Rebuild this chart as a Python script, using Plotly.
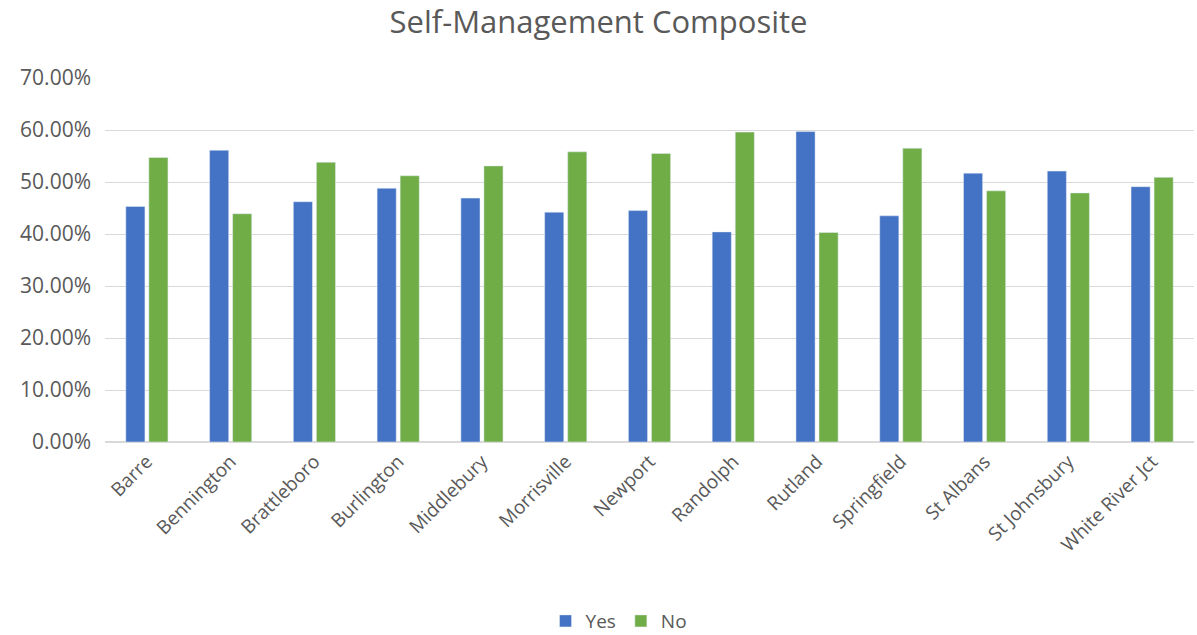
import plotly.graph_objects as go

categories = ["Barre", "Bennington", "Brattleboro", "Burlington", "Middlebury",
              "Morrisville", "Newport", "Randolph", "Rutland", "Springfield",
              "St Albans", "St Johnsbury", "White River Jct"]
yes_vals = [0.453, 0.561, 0.462, 0.488, 0.469, 0.442, 0.445, 0.404, 0.597, 0.435, 0.517, 0.521, 0.491]
no_vals = [0.547, 0.439, 0.538, 0.512, 0.531, 0.558, 0.555, 0.596, 0.403, 0.565, 0.483, 0.479, 0.509]
y_ticks = [0, 0.1, 0.2, 0.3, 0.4, 0.5, 0.6, 0.7]

FONT = "Open Sans"
GREY = "#595959"

fig = go.Figure()
fig.add_trace(go.Bar(name="Yes", x=categories, y=yes_vals, marker_color="#4472C4"))
fig.add_trace(go.Bar(name="No", x=categories, y=no_vals, marker_color="#70AD47"))

fig.update_layout(
    width=1197, height=635,
    paper_bgcolor="white", plot_bgcolor="white",
    margin=dict(l=105, r=3, t=78, b=193, autoexpand=False),
    title=dict(text="Self-Management Composite", x=0.5, xanchor="center",
               yref="container", y=0.965, yanchor="middle",
               font=dict(family=FONT, size=31, color=GREY)),
    barmode="group", bargap=0.45, bargroupgap=0.17,
    font=dict(family=FONT, color=GREY),
    legend=dict(orientation="h", x=0.472, xanchor="center",
                yref="container", y=0.022, yanchor="middle",
                font=dict(family=FONT, size=19, color=GREY), traceorder="normal",
                itemwidth=30),
    xaxis=dict(tickangle=-45, tickfont=dict(family=FONT, size=19, color=GREY),
               showline=True, linecolor="#d9d9d9", linewidth=1, ticks="",
               automargin=False),
    yaxis=dict(range=[0, 0.7], tickvals=y_ticks, tickformat=".2%",
               tickfont=dict(family=FONT, size=21, color=GREY),
               showgrid=True, gridcolor="#d9d9d9", gridwidth=1,
               zeroline=True, zerolinecolor="#d9d9d9", ticks="",
               ticklabelstandoff=13, automargin=False),
)

fig.write_html("out.html", config={"displayModeBar": False},
               post_script="document.body.style.margin='0';document.body.style.padding='0';")
